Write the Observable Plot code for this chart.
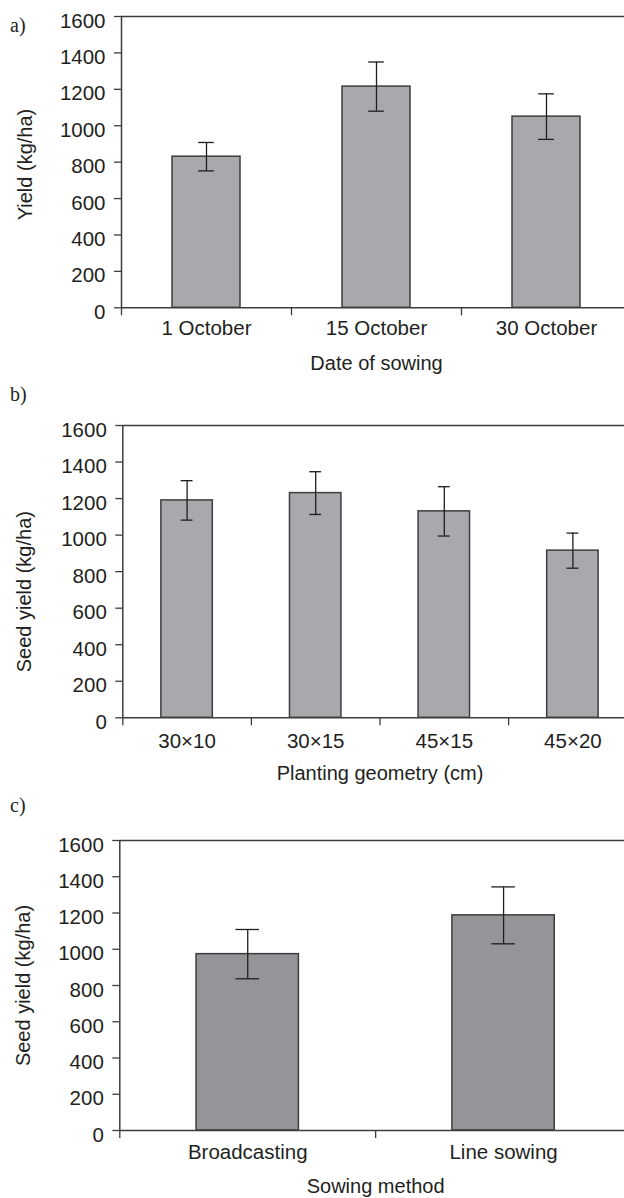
<!DOCTYPE html>
<html><head><meta charset="utf-8">
<script src="https://cdn.jsdelivr.net/npm/d3@7"></script>
<script src="https://cdn.jsdelivr.net/npm/@observablehq/plot@0.6"></script>
<style>
body{margin:0;background:#fff}
#wrap{position:relative;width:624px;height:1198px;overflow:hidden;background:#fff}
#wrap svg{position:absolute;left:0}
.lab{position:absolute;left:10px;font:20px "Liberation Serif","Times New Roman",serif;line-height:20px;color:#231f20}
</style></head><body><div id="wrap"></div>
<script>
// Panel a: date of sowing
const catsA = ["1 October", "15 October", "30 October"];
const yieldA = [830, 1215, 1050];
const errA = [78, 135, 125];
// Panel b: planting geometry
const catsB = ["30×10", "30×15", "45×15", "45×20"];
const yieldB = [1190, 1230, 1130, 915];
const errB = [108, 117, 135, 96];
// Panel c: sowing method
const catsC = ["Broadcasting", "Line sowing"];
const yieldC = [973, 1187];
const errC = [136, 157];
const yTicks = [0, 200, 400, 600, 800, 1000, 1200, 1400, 1600];

const wrap = document.getElementById("wrap");
const AX = "#3d3d3d";

function panel(p) {
  const n = p.cats.length;
  const data = p.cats.map((c, i) => ({cat: c, i, value: p.values[i], err: p.errs[i]}));
  const cx = d => d.i + 0.5;
  const svg = Plot.plot({
    width: 624, height: p.height,
    marginLeft: p.left, marginRight: 624 - p.right, marginTop: p.mt, marginBottom: p.mb,
    style: {fontFamily: "'Liberation Sans', Arial, sans-serif", fontSize: "20.5px", color: "#231f20", background: "white", overflow: "hidden"},
    x: {domain: [0, n]},
    y: {domain: [0, 1600]},
    marks: [
      Plot.rectY(data, {x1: d => cx(d) - 0.2, x2: d => cx(d) + 0.2, y: "value", fill: p.fill, stroke: AX, strokeWidth: 1.5}),
      Plot.ruleX(data, {x: cx, y1: d => d.value - d.err, y2: d => d.value + d.err, stroke: "#1e1e1e", strokeWidth: 1.3}),
      Plot.ruleY(data, {x1: d => cx(d) - 0.046, x2: d => cx(d) + 0.046, y: d => d.value + d.err, stroke: "#1e1e1e", strokeWidth: 1.3}),
      Plot.ruleY(data, {x1: d => cx(d) - 0.046, x2: d => cx(d) + 0.046, y: d => d.value - d.err, stroke: "#1e1e1e", strokeWidth: 1.3}),
      Plot.ruleY([0, 1600], {stroke: AX, strokeWidth: 1.5}),
      Plot.ruleX([0], {stroke: AX, strokeWidth: 1.5}),
      Plot.axisY({ticks: yTicks, tickSize: 7, tickFormat: () => "", stroke: AX, strokeWidth: 1.3, label: null}),
      Plot.axisY({ticks: yTicks, tickSize: 0, tickPadding: 16, dy: 4.5, tickFormat: d => String(d), label: null, fill: "#231f20"}),
      Plot.axisX({ticks: d3.range(0, n + 1), tickSize: 8, tickFormat: () => "", stroke: AX, strokeWidth: 1.3, label: null}),
      Plot.axisX({ticks: d3.range(n).map(i => i + 0.5), tickSize: 0, tickPadding: p.xPad, tickFormat: v => p.cats[Math.floor(v)], label: null, fill: "#231f20"}),
      Plot.text([p.yTitle], {frameAnchor: "left", text: d => d, rotate: -90, dx: p.yDx, dy: p.yDy, textAnchor: "middle", lineAnchor: "middle", fontSize: 20, fill: "#231f20"}),
      Plot.text([p.xTitle], {frameAnchor: "bottom", text: d => d, dy: p.xDy, textAnchor: "middle", lineAnchor: "middle", fontSize: 20, fill: "#231f20"})
    ]
  });
  svg.style.top = p.top + "px";
  wrap.appendChild(svg);
  const lab = document.createElement("div");
  lab.className = "lab";
  lab.textContent = p.label;
  lab.style.top = p.labTop + "px";
  wrap.appendChild(lab);
}

panel({cats: catsA, values: yieldA, errs: errA, fill: "#a7a9ac", top: 0, height: 385, mt: 16, mb: 385 - 307.3,
  left: 121, right: 631, xPad: 12.5, yTitle: "Yield (kg/ha)", yDx: -96.3, yDy: 2.4, xTitle: "Date of sowing", xDy: 56,
  label: "a)", labTop: 15});
panel({cats: catsB, values: yieldB, errs: errB, fill: "#a7a9ac", top: 385, height: 410, mt: 40, mb: 795 - 717.3,
  left: 122.3, right: 636.7, xPad: 16, yTitle: "Seed yield (kg/ha)", yDx: -98.3, yDy: 20, xTitle: "Planting geometry (cm)", xDy: 56,
  label: "b)", labTop: 384});
panel({cats: catsC, values: yieldC, errs: errC, fill: "#939598", top: 795, height: 403, mt: 45, mb: 1198 - 1130,
  left: 119.3, right: 631, xPad: 14, yTitle: "Seed yield (kg/ha)", yDx: -96.3, yDy: 0, xTitle: "Sowing method", xDy: 56,
  label: "c)", labTop: 795});
</script></body></html>
